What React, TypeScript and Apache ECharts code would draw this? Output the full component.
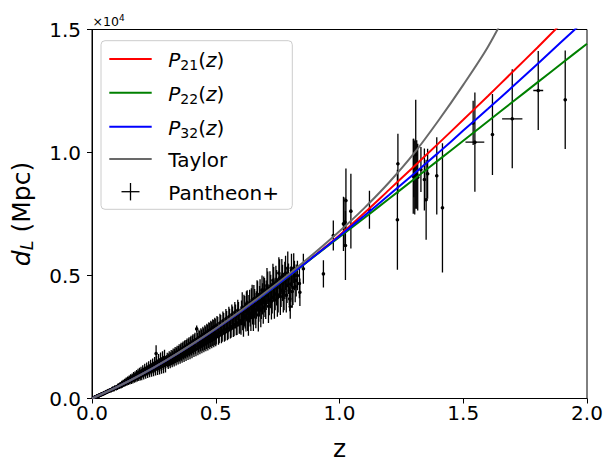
import React, { useEffect, useRef } from "react";
import * as echarts from "echarts";

// ---- model curves, z grid and d_L in Mpc ----
const curveZ = [0, 0.1, 0.2, 0.3, 0.4, 0.5, 0.6, 0.7, 0.8, 0.9, 1.0, 1.1, 1.2, 1.3, 1.4, 1.5, 1.6, 1.7, 1.8, 1.9, 2.0];
const p21 = [0, 460, 980, 1553, 2172, 2833, 3530, 4262, 5022, 5815, 6640, 7540, 8480, 9420, 10370, 11330, 12300, 13280, 14270, 15280, 16300];
const p22 = [0, 460, 980, 1553, 2172, 2833, 3528, 4255, 5010, 5790, 6570, 7340, 8120, 8905, 9690, 10480, 11270, 12060, 12850, 13640, 14420];
const p32 = [0, 460, 980, 1553, 2172, 2833, 3530, 4260, 5018, 5802, 6605, 7430, 8270, 9125, 9995, 10890, 11780, 12680, 13600, 14530, 15460];
const taylor = [0, 460, 980, 1555, 2178, 2845, 3555, 4305, 5095, 5925, 6800, 7740, 8780, 9950, 11300, 12750, 14300, 16200, 18300, 20600, 23100];

// ---- Pantheon+ points: [z, dL, sigma_dL, sigma_z] ----
const snLow = [
  [0.010, 44, 8], [0.012, 50, 9], [0.014, 62, 10], [0.016, 70, 11], [0.018, 76, 12], [0.020, 88, 12],
  [0.022, 95, 13], [0.024, 106, 14], [0.026, 110, 15], [0.028, 124, 16], [0.030, 128, 17], [0.033, 146, 18],
  [0.036, 158, 20], [0.039, 168, 21], [0.042, 190, 23], [0.045, 196, 24], [0.048, 215, 26], [0.052, 228, 28],
  [0.056, 254, 30], [0.060, 262, 32], [0.064, 290, 34], [0.068, 300, 36], [0.072, 330, 38], [0.076, 338, 40],
  [0.080, 370, 42], [0.085, 380, 45], [0.090, 420, 48], [0.095, 430, 50], [0.100, 470, 52],
];
const snLowB = [
  [0.011, 52, 16], [0.013, 53, 18], [0.015, 70, 20], [0.017, 68, 22], [0.019, 88, 24], [0.021, 86, 25],
  [0.023, 108, 27], [0.025, 100, 29], [0.027, 128, 31], [0.029, 118, 33], [0.031, 148, 35], [0.034, 140, 37],
  [0.037, 176, 39], [0.040, 166, 42], [0.043, 204, 44], [0.046, 188, 47], [0.050, 240, 51], [0.054, 226, 55],
  [0.058, 280, 59], [0.062, 262, 63], [0.066, 318, 66], [0.070, 296, 70], [0.074, 356, 74], [0.078, 330, 78],
  [0.083, 400, 83], [0.088, 372, 88], [0.093, 450, 92], [0.098, 420, 96],
];
const snMid1 = [
  [0.104, 480, 55], [0.108, 495, 56], [0.112, 530, 58], [0.115, 520, 60], [0.118, 560, 62], [0.121, 548, 64],
  [0.124, 600, 65], [0.127, 575, 66], [0.130, 628, 68], [0.133, 605, 70], [0.136, 662, 72], [0.139, 638, 73],
  [0.142, 700, 75], [0.145, 668, 76], [0.148, 722, 78], [0.151, 686, 80], [0.154, 762, 82], [0.157, 730, 84],
  [0.160, 804, 86], [0.163, 756, 88], [0.166, 822, 90], [0.169, 786, 92], [0.172, 872, 95], [0.175, 815, 96],
  [0.178, 893, 98], [0.181, 852, 100], [0.184, 934, 103], [0.187, 876, 105], [0.190, 962, 108], [0.193, 905, 110],
  [0.196, 1012, 112], [0.199, 935, 115], [0.203, 1044, 118], [0.207, 966, 120], [0.211, 1085, 124], [0.215, 1015, 126],
  [0.219, 1132, 130], [0.223, 1046, 132], [0.227, 1165, 136], [0.231, 1086, 138], [0.235, 1205, 142], [0.239, 1125, 145],
  [0.243, 1255, 150], [0.247, 1164, 152], [0.251, 1295, 156], [0.255, 1206, 160], [0.259, 1830, 330], [0.262, 1335, 165],
  [0.266, 1255, 168], [0.270, 1392, 172], [0.274, 1305, 176], [0.278, 1445, 180], [0.282, 1346, 184], [0.286, 1494, 188],
  [0.290, 1398, 192], [0.294, 1545, 196], [0.298, 1436, 200],
];
const snMid1B = [
  [0.102, 430, 84], [0.106, 530, 87], [0.110, 470, 87], [0.114, 580, 91], [0.117, 500, 92], [0.120, 620, 98],
  [0.123, 540, 98], [0.126, 660, 101], [0.129, 570, 104], [0.132, 700, 106], [0.135, 605, 109], [0.138, 740, 112],
  [0.141, 635, 115], [0.144, 780, 118], [0.147, 670, 120], [0.150, 810, 126], [0.153, 700, 126], [0.156, 860, 129],
  [0.159, 720, 133], [0.162, 880, 137], [0.165, 750, 140], [0.168, 930, 143], [0.171, 790, 146], [0.174, 960, 151],
  [0.177, 810, 154], [0.180, 1000, 157], [0.183, 850, 161], [0.186, 1040, 165], [0.189, 880, 168], [0.192, 1080, 174],
  [0.195, 910, 176], [0.198, 1110, 182], [0.201, 930, 185], [0.205, 1160, 190], [0.209, 970, 193], [0.213, 1210, 199],
  [0.217, 1010, 204], [0.221, 1250, 210], [0.225, 1050, 213], [0.229, 1300, 218], [0.233, 1090, 224], [0.237, 1340, 231],
  [0.241, 1120, 235], [0.245, 1390, 241], [0.249, 1150, 246], [0.253, 1440, 252], [0.257, 1190, 258], [0.261, 1480, 263],
  [0.265, 1220, 269], [0.269, 1530, 274], [0.273, 1260, 280], [0.277, 1580, 286], [0.281, 1300, 291], [0.285, 1620, 297],
  [0.289, 1330, 302], [0.293, 1670, 308], [0.297, 1370, 314],
];
const snMid2 = [
  [0.302, 1562, 205], [0.306, 1478, 210], [0.310, 1622, 212], [0.314, 1528, 215], [0.318, 1664, 220], [0.322, 1575, 222],
  [0.326, 1722, 226], [0.330, 1615, 230], [0.334, 1784, 234], [0.338, 1676, 238], [0.342, 1834, 240], [0.346, 1716, 245],
  [0.350, 1886, 248], [0.354, 1755, 252], [0.358, 1952, 256], [0.362, 1796, 260], [0.366, 2004, 265], [0.370, 1855, 268],
  [0.374, 2062, 272], [0.378, 1906, 276], [0.382, 2094, 280], [0.386, 1955, 285], [0.390, 2145, 290], [0.394, 2006, 294],
  [0.398, 2204, 298], [0.402, 2055, 302], [0.406, 2255, 306], [0.410, 2096, 310], [0.414, 2294, 315], [0.418, 2136, 320],
  [0.423, 2830, 140], [0.426, 2335, 325], [0.430, 2195, 330], [0.434, 2405, 335], [0.438, 2246, 340], [0.442, 2455, 345],
  [0.446, 2286, 350], [0.450, 2505, 355], [0.454, 2325, 360], [0.458, 2566, 365], [0.462, 2385, 370], [0.466, 2624, 375],
  [0.470, 2436, 380], [0.474, 2686, 385], [0.478, 2485, 390], [0.482, 2724, 395], [0.486, 2536, 400], [0.490, 2785, 405],
  [0.494, 2575, 410], [0.498, 2826, 415], [0.502, 2615, 420], [0.508, 2884, 425], [0.514, 2676, 430], [0.520, 2955, 435],
  [0.526, 2745, 440], [0.532, 3034, 445], [0.538, 2796, 450], [0.544, 3105, 455], [0.550, 2866, 460], [0.556, 3184, 465],
  [0.562, 2935, 470], [0.568, 3265, 475], [0.574, 3006, 480], [0.580, 3334, 485], [0.586, 3075, 490], [0.592, 3424, 495],
  [0.598, 3146, 500],
];
const snMid2B = [
  [0.304, 1640, 220], [0.308, 1395, 200], [0.312, 1690, 226], [0.316, 1435, 206], [0.320, 1740, 232], [0.324, 1480, 212],
  [0.328, 1790, 238], [0.332, 1520, 218], [0.336, 1845, 244], [0.340, 1565, 224], [0.344, 1895, 250], [0.348, 1610, 230],
  [0.352, 1950, 256], [0.356, 1650, 236], [0.360, 2000, 262], [0.364, 1695, 242], [0.368, 2050, 268], [0.372, 1735, 248],
  [0.376, 2100, 274], [0.380, 1780, 254], [0.384, 2155, 280], [0.388, 1825, 260], [0.392, 2205, 286], [0.396, 1865, 266],
  [0.400, 2260, 292], [0.404, 1910, 272], [0.408, 2310, 298], [0.412, 1960, 278], [0.416, 2365, 304], [0.420, 2000, 284],
  [0.424, 2420, 310], [0.428, 2050, 290], [0.432, 2475, 316], [0.436, 2095, 296], [0.440, 2530, 322], [0.444, 2140, 302],
  [0.448, 2585, 328], [0.452, 2185, 308], [0.456, 2640, 334], [0.460, 2230, 314], [0.464, 2695, 340], [0.468, 2275, 320],
  [0.472, 2750, 346], [0.476, 2325, 326], [0.480, 2805, 352], [0.484, 2370, 332], [0.488, 2860, 358], [0.492, 2420, 338],
  [0.496, 2920, 364], [0.500, 2465, 344], [0.505, 2980, 370], [0.511, 2530, 350], [0.517, 3070, 378], [0.523, 2600, 358],
  [0.529, 3155, 386], [0.535, 2675, 366], [0.541, 3240, 394], [0.547, 2745, 374], [0.553, 3325, 402], [0.559, 2820, 382],
  [0.565, 3415, 410], [0.571, 2895, 390], [0.577, 3500, 418], [0.583, 2965, 398], [0.589, 3590, 426], [0.595, 3040, 406],
];
const snMid3 = [
  [0.604, 3480, 500], [0.609, 3250, 480], [0.614, 3700, 520], [0.619, 3350, 500], [0.624, 3820, 540], [0.629, 3200, 460],
  [0.634, 3650, 560], [0.639, 3450, 520], [0.644, 3900, 580], [0.649, 3550, 540], [0.654, 4050, 560], [0.659, 3600, 600],
  [0.664, 3800, 560], [0.669, 4150, 620], [0.674, 3700, 580], [0.679, 4250, 600], [0.684, 3850, 620], [0.689, 4050, 640],
  [0.694, 4400, 560], [0.699, 3950, 640], [0.704, 4200, 600], [0.710, 4500, 660], [0.716, 4000, 620], [0.722, 4350, 680],
  [0.728, 4100, 640], [0.734, 4650, 700], [0.740, 4250, 660], [0.746, 4500, 720], [0.752, 4200, 700], [0.758, 4900, 760],
  [0.764, 4400, 680], [0.770, 4700, 740], [0.776, 4350, 760], [0.782, 5100, 700], [0.788, 4600, 720], [0.794, 4866, 620],
  [0.797, 4390, 600], [0.799, 4050, 500], [0.801, 3740, 500], [0.806, 5200, 680], [0.812, 4500, 700], [0.818, 5000, 600],
  [0.825, 4800, 650], [0.838, 4675, 600], [0.840, 4321, 560],
];
const snMid3B = [
  [0.602, 3150, 560], [0.607, 3720, 600], [0.612, 3050, 540], [0.617, 3550, 620], [0.622, 3300, 580], [0.627, 3900, 500],
  [0.632, 3150, 600], [0.637, 3780, 640], [0.642, 3300, 560], [0.647, 4000, 620], [0.652, 3400, 660], [0.657, 3850, 600],
  [0.662, 3500, 640], [0.667, 4250, 560], [0.672, 3400, 680], [0.677, 3950, 620], [0.682, 3600, 700], [0.687, 4400, 600],
  [0.692, 3700, 660], [0.697, 4200, 700], [0.702, 3850, 620], [0.707, 4600, 700], [0.713, 3750, 680], [0.719, 4450, 720],
  [0.725, 3950, 740], [0.731, 4800, 680], [0.737, 4000, 760], [0.743, 4700, 700], [0.749, 4100, 780], [0.755, 5100, 640],
  [0.761, 4150, 760], [0.767, 4950, 720], [0.773, 4300, 800], [0.779, 4800, 760], [0.785, 4200, 700], [0.791, 5300, 680],
  [0.803, 4650, 720], [0.809, 4350, 660], [0.815, 5300, 600], [0.821, 4550, 640], [0.830, 5000, 600],
];
const snHigh = [
  [0.854, 5272, 610, 0], [0.935, 5068, 556, 0], [0.975, 6626, 610, 0], [1.016, 7100, 1100, 0],
  [1.022, 7170, 1000, 0], [1.024, 6220, 1400, 0], [1.026, 8050, 1300, 0], [1.046, 7615, 1520, 0],
  [1.121, 7670, 772, 0], [1.234, 7264, 2033, 0], [1.236, 9541, 1220, 0],
  [1.298, 9032, 1524, 0], [1.300, 9370, 1190, 0], [1.304, 8984, 1504, 0], [1.308, 9926, 2215, 0],
  [1.312, 9105, 1390, 0], [1.316, 8996, 1355, 0], [1.329, 9309, 915, 0], [1.343, 8902, 1260, 0],
  [1.350, 8077, 1626, 0], [1.356, 9134, 1016, 0], [1.393, 9053, 1572, 0], [1.416, 7752, 2629, 0],
  [1.540, 11200, 900, 0], [1.547, 10419, 2019, 0.038], [1.618, 10732, 1646, 0], [1.698, 11370, 2012, 0.041],
  [1.803, 12520, 1606, 0.02], [1.912, 12142, 2000, 0],
];

const xTicks = [0, 0.5, 1.0, 1.5, 2.0];
const yTicks = [0, 5000, 10000, 15000];

const FONT = "DejaVu Sans";

export default function App() {
  const ref = useRef<HTMLDivElement>(null);
  useEffect(() => {
    document.body.style.margin = "0";
    const chart = echarts.init(ref.current as HTMLDivElement, null, { renderer: "svg" });
    const points = [...snLow, ...snLowB, ...snMid1, ...snMid1B, ...snMid2, ...snMid2B, ...snMid3, ...snMid3B, ...snHigh].map(
      (p) => [p[0], p[1], p[2], p[3] || 0]
    );
    const line = (name: string, vals: number[], color: string) => ({
      type: "line",
      name,
      data: curveZ.map((z, i) => [z, vals[i]]),
      symbol: "none",
      showSymbol: false,
      smooth: 0.3,
      clip: true,
      z: 3,
      silent: true,
      lineStyle: { color, width: 2 },
    });
    const main = { fontFamily: FONT, fontSize: 20, lineHeight: 24, verticalAlign: "middle", color: "#000" };
    const rich = {
      n: { ...main },
      i: { ...main, fontStyle: "italic" },
      s: { fontFamily: FONT, fontSize: 14, lineHeight: 14, verticalAlign: "bottom", color: "#000" },
    };
    const rows = [59, 92.7, 126.7, 159, 191.7];
    const legendItems = [
      { text: "{i|P}{s|21}{n|(}{i|z}{n|)}", color: "#ff0000" },
      { text: "{i|P}{s|22}{n|(}{i|z}{n|)}", color: "#008000" },
      { text: "{i|P}{s|32}{n|(}{i|z}{n|)}", color: "#0000ff" },
      { text: "{n|Taylor}", color: "#696969" },
      { text: "{n|Pantheon+}", color: "" },
    ];
    const graphic: any[] = [
      {
        type: "rect",
        shape: { x: 101, y: 40.7, width: 191.3, height: 168.6, r: 4 },
        style: { fill: "rgba(255,255,255,0.8)", stroke: "#cccccc", lineWidth: 1 },
        z: 10,
      },
    ];
    legendItems.forEach((it, k) => {
      const y = rows[k];
      if (it.color) {
        graphic.push({
          type: "line",
          shape: { x1: 109.3, y1: y, x2: 151.7, y2: y },
          style: { stroke: it.color, lineWidth: 2 },
          z: 11,
        });
      } else {
        graphic.push({ type: "line", shape: { x1: 121.5, y1: y, x2: 139.5, y2: y }, style: { stroke: "#000", lineWidth: 1.3 }, z: 11 });
        graphic.push({ type: "line", shape: { x1: 130.5, y1: y - 8.7, x2: 130.5, y2: y + 8.7 }, style: { stroke: "#000", lineWidth: 1.3 }, z: 11 });
      }
      graphic.push({
        type: "text",
        x: 168.3,
        y: y + 1,
        z: 11,
        style: { text: it.text, rich, align: "left", verticalAlign: "middle", fill: "#000" },
      });
    });
    graphic.push({
      type: "text",
      x: 92.5,
      y: 21.5,
      z: 11,
      style: {
        text: "{a|×10}{b|4}",
        align: "left",
        verticalAlign: "middle",
        rich: {
          a: { fontFamily: FONT, fontSize: 12.5, lineHeight: 16, verticalAlign: "middle", color: "#000" },
          b: { fontFamily: FONT, fontSize: 9, lineHeight: 9, verticalAlign: "top", color: "#000" },
        },
      },
    });

    chart.setOption({
      animation: false,
      backgroundColor: "#ffffff",
      grid: { left: 92, right: 26, top: 29.5, bottom: 73.5, show: true, borderColor: "#000", borderWidth: 1, backgroundColor: "transparent" },
      xAxis: {
        type: "value",
        min: xTicks[0],
        max: xTicks[xTicks.length - 1],
        interval: 0.5,
        name: "z",
        nameLocation: "middle",
        nameGap: 37,
        nameTextStyle: { fontFamily: FONT, fontSize: 25, lineHeight: 25, color: "#000" },
        axisLine: { show: true, lineStyle: { color: "#000", width: 1 } },
        axisTick: { show: true, inside: false, length: 5, lineStyle: { color: "#000", width: 1 } },
        axisLabel: { fontFamily: FONT, fontSize: 20, lineHeight: 20, color: "#000", margin: 4, showMinLabel: true, showMaxLabel: true, formatter: (v: number) => v.toFixed(1) },
        splitLine: { show: false },
      },
      yAxis: {
        type: "value",
        min: yTicks[0],
        max: yTicks[yTicks.length - 1],
        interval: 5000,
        name: "{i|d}{s|L}{n| (Mpc)}",
        nameLocation: "middle",
        nameRotate: 90,
        nameGap: 56,
        nameTextStyle: {
          rich: {
            n: { fontFamily: FONT, fontSize: 25, lineHeight: 30, verticalAlign: "middle", color: "#000" },
            i: { fontFamily: FONT, fontSize: 25, lineHeight: 30, verticalAlign: "middle", fontStyle: "italic", color: "#000" },
            s: { fontFamily: FONT, fontSize: 17.5, lineHeight: 17.5, verticalAlign: "bottom", fontStyle: "italic", color: "#000" },
          },
        },
        axisLine: { show: true, lineStyle: { color: "#000", width: 1 } },
        axisTick: { show: true, inside: false, length: 5, lineStyle: { color: "#000", width: 1 } },
        axisLabel: { fontFamily: FONT, fontSize: 20, color: "#000", margin: 11, showMinLabel: true, showMaxLabel: true, formatter: (v: number) => (v / 10000).toFixed(1) },
        splitLine: { show: false },
      },
      series: [
        {
          type: "custom",
          name: "Pantheon+",
          data: points,
          encode: { x: 0, y: 1 },
          clip: true,
          z: 2,
          silent: true,
          renderItem: (params: any, api: any) => {
            const z = api.value(0);
            const d = api.value(1);
            const sd = api.value(2);
            const sz = api.value(3);
            const top = api.coord([z, d + sd]);
            const bot = api.coord([z, d - sd]);
            const c = api.coord([z, d]);
            const children: any[] = [
              { type: "line", shape: { x1: top[0], y1: top[1], x2: bot[0], y2: bot[1] }, style: { stroke: "#000", lineWidth: 1.3 } },
              { type: "circle", shape: { cx: c[0], cy: c[1], r: 1.8 }, style: { fill: "#000" } },
            ];
            if (sz > 0) {
              const l = api.coord([z - sz, d]);
              const r = api.coord([z + sz, d]);
              children.push({ type: "line", shape: { x1: l[0], y1: l[1], x2: r[0], y2: r[1] }, style: { stroke: "#000", lineWidth: 1.3 } });
            }
            return { type: "group", children };
          },
        },
        line("P21(z)", p21, "#ff0000"),
        line("P22(z)", p22, "#008000"),
        line("P32(z)", p32, "#0000ff"),
        line("Taylor", taylor, "#696969"),
      ],
      graphic,
    });
    return () => chart.dispose();
  }, []);
  return <div ref={ref} style={{ width: 613, height: 472 }} />;
}
